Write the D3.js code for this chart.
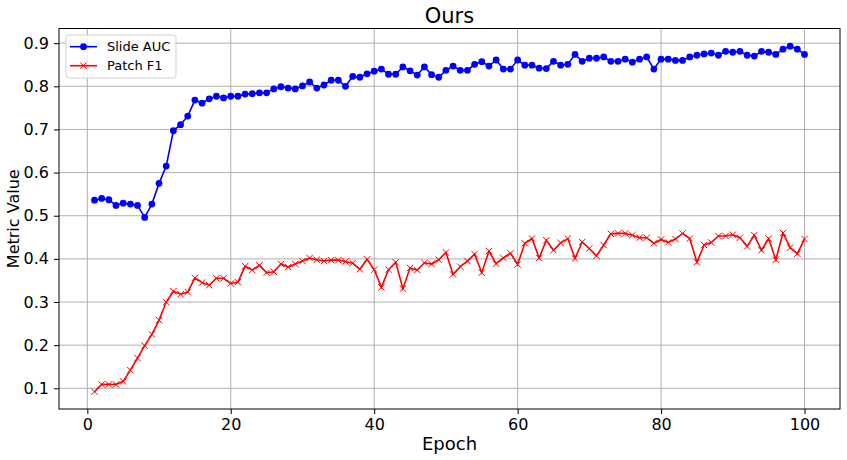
<!DOCTYPE html>
<html>
<head>
<meta charset="utf-8">
<script src="https://cdn.jsdelivr.net/npm/d3@7"></script>
<style>
  body { margin: 0; background: #fff; }
  svg { font-family: "DejaVu Sans", sans-serif; }
</style>
</head>
<body>
<svg id="chart" width="847" height="460"></svg>
<script>
// Values, one per epoch.
const epochs = d3.range(1, 101);

const slideAuc = [
  0.536, 0.540, 0.537, 0.524, 0.529, 0.527, 0.524, 0.496, 0.527, 0.575,
  0.615, 0.697, 0.711, 0.731, 0.768, 0.761, 0.771, 0.777, 0.773, 0.777,
  0.777, 0.782, 0.783, 0.785, 0.785, 0.794, 0.799, 0.796, 0.794, 0.801,
  0.810, 0.796, 0.803, 0.814, 0.814, 0.800, 0.823, 0.821, 0.829, 0.835,
  0.840, 0.828, 0.828, 0.845, 0.836, 0.826, 0.845, 0.827, 0.821, 0.837,
  0.847, 0.837, 0.837, 0.851, 0.857, 0.847, 0.861, 0.840, 0.840, 0.861,
  0.849, 0.849, 0.842, 0.841, 0.858, 0.849, 0.851, 0.874, 0.858, 0.865,
  0.865, 0.868, 0.858, 0.858, 0.863, 0.856, 0.863, 0.868, 0.840, 0.863,
  0.863, 0.860, 0.860, 0.868, 0.872, 0.875, 0.877, 0.872, 0.881, 0.879,
  0.881, 0.872, 0.870, 0.881, 0.879, 0.874, 0.886, 0.893, 0.886, 0.874
];

const patchF1 = [
  0.092, 0.109, 0.109, 0.109, 0.116, 0.142, 0.170, 0.199, 0.225, 0.258,
  0.300, 0.325, 0.318, 0.323, 0.356, 0.345, 0.339, 0.355, 0.355, 0.343,
  0.346, 0.383, 0.374, 0.385, 0.368, 0.370, 0.388, 0.381, 0.388, 0.395,
  0.402, 0.398, 0.395, 0.397, 0.397, 0.394, 0.390, 0.376, 0.399, 0.375,
  0.334, 0.375, 0.392, 0.331, 0.379, 0.374, 0.391, 0.388, 0.398, 0.415,
  0.364, 0.382, 0.395, 0.411, 0.368, 0.418, 0.389, 0.402, 0.413, 0.387,
  0.436, 0.447, 0.402, 0.443, 0.420, 0.437, 0.447, 0.401, 0.439, 0.424,
  0.407, 0.432, 0.458, 0.459, 0.459, 0.455, 0.449, 0.449, 0.436, 0.445,
  0.438, 0.446, 0.459, 0.447, 0.392, 0.432, 0.438, 0.453, 0.453, 0.456,
  0.449, 0.429, 0.455, 0.420, 0.447, 0.398, 0.460, 0.426, 0.412, 0.446
];

const xTicks = [0, 20, 40, 60, 80, 100];
const yTicks = [0.1, 0.2, 0.3, 0.4, 0.5, 0.6, 0.7, 0.8, 0.9];

const seriesNames = ['Slide AUC', 'Patch F1'];
const seriesColors = ['#0000ff', '#ff0000'];

let margin = {top: 28.5, right: 7, bottom: 51, left: 59};
let svg = d3.select('#chart');
let width = 847 - margin.left - margin.right;
let height = 460 - margin.top - margin.bottom;

let g = svg.append('g').attr('transform', `translate(${margin.left},${margin.top})`);

let x = d3.scaleLinear().domain([-3.95, 104.95]).range([0, width]);
let y = d3.scaleLinear().domain([0.052, 0.934]).range([height, 0]);

// Grid
g.append('g')
    .attr('class', 'grid')
    .selectAll('line.gx')
    .data(xTicks)
  .enter().append('line')
    .attr('x1', d => x(d)).attr('x2', d => x(d))
    .attr('y1', 0).attr('y2', height);
g.append('g')
    .attr('class', 'grid')
    .selectAll('line.gy')
    .data(yTicks)
  .enter().append('line')
    .attr('x1', 0).attr('x2', width)
    .attr('y1', d => y(d)).attr('y2', d => y(d));
g.selectAll('.grid line').attr('stroke', '#b0b0b0').attr('stroke-width', 1);

// Axes
let xAxis = g.append('g')
    .attr('transform', `translate(0,${height})`)
    .call(d3.axisBottom(x).tickValues(xTicks).tickSize(5).tickPadding(5).tickFormat(d3.format('d')));
let yAxis = g.append('g')
    .call(d3.axisLeft(y).tickValues(yTicks).tickSize(5).tickPadding(5).tickFormat(d3.format('.1f')));
[xAxis, yAxis].forEach(a => {
    a.select('.domain').remove();
    a.selectAll('text').attr('font-size', 16).attr('fill', '#000')
        .attr('font-family', '"DejaVu Sans", sans-serif');
    a.selectAll('line').attr('stroke', '#000');
});

// Lines
let line = d3.line().x((d, i) => x(epochs[i])).y(d => y(d));

g.append('path').datum(slideAuc)
    .attr('fill', 'none').attr('stroke', seriesColors[0]).attr('stroke-width', 1.6)
    .attr('d', line);
g.append('path').datum(patchF1)
    .attr('fill', 'none').attr('stroke', seriesColors[1]).attr('stroke-width', 1.6)
    .attr('d', line);

// Markers
g.append('g').selectAll('circle')
    .data(slideAuc)
  .enter().append('circle')
    .attr('cx', (d, i) => x(epochs[i]))
    .attr('cy', d => y(d))
    .attr('r', 3.4)
    .attr('fill', seriesColors[0]);

let crossPath = s => `M${-s},${-s}L${s},${s}M${-s},${s}L${s},${-s}`;
g.append('g').selectAll('path')
    .data(patchF1)
  .enter().append('path')
    .attr('transform', (d, i) => `translate(${x(epochs[i])},${y(d)})`)
    .attr('d', crossPath(3.2))
    .attr('stroke', seriesColors[1])
    .attr('stroke-width', 1)
    .attr('fill', 'none');

// Frame
g.append('rect')
    .attr('width', width).attr('height', height)
    .attr('fill', 'none').attr('stroke', '#000').attr('stroke-width', 1);

// Title and labels
svg.append('text')
    .attr('x', margin.left + width / 2).attr('y', 23)
    .attr('text-anchor', 'middle').attr('font-size', 21)
    .text('Ours');
svg.append('text')
    .attr('x', margin.left + width / 2).attr('y', 450)
    .attr('text-anchor', 'middle').attr('font-size', 18)
    .text('Epoch');
svg.append('text')
    .attr('transform', `translate(19,${margin.top + height / 2}) rotate(-90)`)
    .attr('text-anchor', 'middle').attr('font-size', 16)
    .text('Metric Value');

// Legend
let legend = svg.append('g').attr('transform', 'translate(66,35)');
legend.append('rect')
    .attr('width', 110).attr('height', 43).attr('rx', 3)
    .attr('fill', '#fff').attr('fill-opacity', 0.8)
    .attr('stroke', '#d0d0d0').attr('stroke-width', 1);
seriesNames.forEach((name, i) => {
    let row = legend.append('g').attr('transform', `translate(0,${11.7 + i * 19})`);
    row.append('line')
        .attr('x1', 4).attr('x2', 31)
        .attr('stroke', seriesColors[i]).attr('stroke-width', 1.6);
    if (i === 0) {
        row.append('circle').attr('cx', 17.5).attr('r', 3.4).attr('fill', seriesColors[i]);
    } else {
        row.append('path').attr('transform', 'translate(17.5,0)')
            .attr('d', crossPath(3.2)).attr('stroke', seriesColors[i]).attr('fill', 'none');
    }
    row.append('text')
        .attr('x', 41).attr('y', 4.6)
        .attr('font-size', 13)
        .text(name);
});
</script>
</body>
</html>
